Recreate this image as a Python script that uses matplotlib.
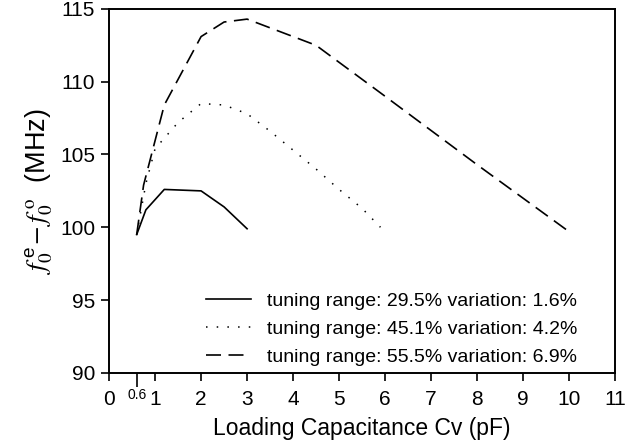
import matplotlib
matplotlib.use("Agg")
import matplotlib.pyplot as plt

plt.rcParams['font.family'] = ['Liberation Sans', 'DejaVu Sans']
plt.rcParams['mathtext.fontset'] = 'stix'

# data
x_a = [0.6, 0.8, 1.2, 2.0, 2.5, 3.0]
y_a = [99.5, 101.2, 102.6, 102.5, 101.4, 99.9]

x_b = [0.6, 0.8, 1.0, 1.5, 2.0, 2.5, 3.0, 3.5, 4.0, 4.5, 5.0, 5.5, 5.9]
y_b = [99.5, 103.0, 105.4, 107.2, 108.5, 108.4, 107.8, 106.6, 105.3, 104.0, 102.6, 101.3, 100.0]

x_c = [0.6, 0.75, 1.2, 2.0, 2.5, 3.0, 4.5, 6.0, 8.0, 10.0]
y_c = [99.5, 102.9, 108.4, 113.1, 114.1, 114.3, 112.5, 109.0, 104.3, 99.7]

labels = ["tuning range: 29.5% variation: 1.6%",
          "tuning range: 45.1% variation: 4.2%",
          "tuning range: 55.5% variation: 6.9%"]

xticks = list(range(0, 12))
yticks = [90, 95, 100, 105, 110, 115]

fig = plt.figure(figsize=(6.38, 4.46), dpi=100)
ax = fig.add_axes([0.171, 0.164, 0.793, 0.816])

ax.plot(x_a, y_a, color='black', lw=1.2, ls='-', label=labels[0])
ax.plot(x_b, y_b, color='black', lw=1.1, ls=(0, (1, 6)), label=labels[1])
ax.plot(x_c, y_c, color='black', lw=1.2, ls=(0, (9, 4.5)), label=labels[2])

ax.set_xlim(0, 11)
ax.set_ylim(90, 115)
ax.set_xticks(xticks)
ax.set_yticks(yticks)
ax.set_xticks([0.6], minor=True)
ax.set_xticklabels(['0.6'], minor=True, fontsize=10)
ax.tick_params(axis='both', which='major', direction='out', length=6, width=1.2, labelsize=15)
ax.tick_params(axis='x', which='major', pad=6)
ax.tick_params(axis='y', which='major', pad=4)
ax.tick_params(axis='x', which='minor', direction='out', length=10, width=1.2, pad=1)
for s in ax.spines.values():
    s.set_linewidth(1.4)

ax.set_xlabel("Loading Capacitance Cv (pF)", fontsize=16.5, labelpad=6)
ax.set_ylabel(r"$f_0^{\,\mathregular{e}}\!-f_0^{\;\mathrm{o}}$  (MHz)", fontsize=19.5, labelpad=4)

ax.legend(loc='lower right', bbox_to_anchor=(0.925, 0.02), frameon=False, fontsize=14,
          handlelength=2.3, labelspacing=0.53, handletextpad=0.8, borderpad=0, borderaxespad=0)

fig.savefig("out.png", dpi=100)
